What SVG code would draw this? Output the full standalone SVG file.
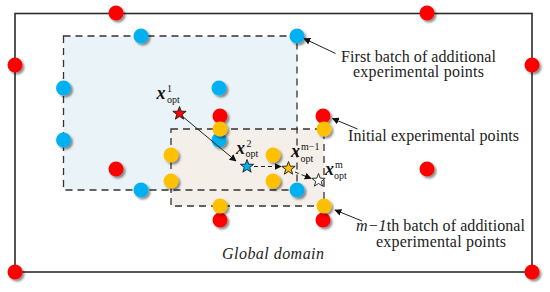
<svg xmlns="http://www.w3.org/2000/svg" width="550" height="292" viewBox="0 0 550 292">
<style>
.lbl{font-family:"Liberation Serif","Times New Roman",serif;font-size:16px;fill:#222}
.it{font-style:italic}
.xv{font-family:"Liberation Serif","Times New Roman",serif;font-size:18px;font-style:italic;font-weight:bold;fill:#111}
.sc{font-family:"Liberation Serif","Times New Roman",serif;font-size:10px;fill:#111}
.red{fill:#ff0000}
.blue{fill:#00b0f0}
.yel{fill:#ffc000}
.dash{fill:none;stroke:#333;stroke-width:1.3;stroke-dasharray:7 5}
.ptr{fill:none;stroke:#222;stroke-width:1}
.star{stroke:#1a1a1a;stroke-width:0.9;stroke-linejoin:miter}
</style>
<defs>
<filter id="sh" x="-60%" y="-60%" width="220%" height="220%">
<feDropShadow dx="2" dy="2" stdDeviation="1.3" flood-color="#000" flood-opacity="0.45"/>
</filter>
<marker id="ah" viewBox="0 0 10 10" refX="9" refY="5" markerWidth="7" markerHeight="7" markerUnits="userSpaceOnUse" orient="auto">
<path d="M0,0 L10,5 L0,10 z" fill="#111"/>
</marker>
<polygon id="star" points="0,-7 1.7,-2.35 6.66,-2.16 2.76,0.9 4.11,5.66 0,2.9 -4.11,5.66 -2.76,0.9 -6.66,-2.16 -1.7,-2.35"/>
</defs>

<g id="global-domain">
<rect x="15" y="13.5" width="517" height="258.5" fill="#fff" stroke="#2b2b2b" stroke-width="1.6"/>
<text class="lbl it" x="222" y="259" font-size="17" textLength="102">Global domain</text>
</g>

<g id="batch1-region">
<rect x="63.5" y="36" width="233.5" height="154" fill="#eaf3f7"/>
</g>
<g id="batchm1-region">
<rect x="171" y="129" width="153" height="77" fill="#f4efe8"/>
</g>
<g id="region-borders">
<rect class="dash" x="63.5" y="36" width="233.5" height="154"/>
<rect class="dash" x="171" y="129" width="153" height="77"/>
</g>

<g id="initial-points" filter="url(#sh)">
<circle class="red" cx="116" cy="13" r="7.5"/>
<circle class="red" cx="427" cy="13" r="7.5"/>
<circle class="red" cx="15" cy="65" r="7.5"/>
<circle class="red" cx="532" cy="65" r="7.5"/>
<circle class="red" cx="116" cy="169" r="7.5"/>
<circle class="red" cx="427" cy="169" r="7.5"/>
<circle class="red" cx="15" cy="272" r="7.5"/>
<circle class="red" cx="532" cy="272" r="7.5"/>
<circle class="red" cx="220" cy="116" r="7.5"/>
<circle class="red" cx="323" cy="116" r="7.5"/>
<circle class="red" cx="220" cy="220" r="7.5"/>
<circle class="red" cx="323" cy="220" r="7.5"/>
</g>

<g id="batch1-points" filter="url(#sh)">
<circle class="blue" cx="141" cy="36" r="7.5"/>
<circle class="blue" cx="297" cy="36" r="7.5"/>
<circle class="blue" cx="63.5" cy="88" r="7.5"/>
<circle class="blue" cx="219" cy="88" r="7.5"/>
<circle class="blue" cx="63.5" cy="140" r="7.5"/>
<circle class="blue" cx="219" cy="140" r="7.5"/>
<circle class="blue" cx="141" cy="190" r="7.5"/>
<circle class="blue" cx="297" cy="190" r="7.5"/>
</g>

<g id="batchm1-points" filter="url(#sh)">
<circle class="yel" cx="220" cy="129" r="7.5"/>
<circle class="yel" cx="324" cy="129" r="7.5"/>
<circle class="yel" cx="171" cy="155" r="7.5"/>
<circle class="yel" cx="273" cy="155" r="7.5"/>
<circle class="yel" cx="171" cy="181" r="7.5"/>
<circle class="yel" cx="273" cy="181" r="7.5"/>
<circle class="yel" cx="220" cy="206" r="7.5"/>
<circle class="yel" cx="324" cy="206" r="7.5"/>
</g>

<g id="connectors">
<line class="ptr" x1="182" y1="116" x2="236" y2="161" marker-end="url(#ah)"/>
<line class="ptr" x1="254" y1="166.5" x2="281" y2="166.5" stroke-dasharray="4 3" marker-end="url(#ah)"/>
<line class="ptr" x1="295" y1="172" x2="311" y2="178.5" stroke-dasharray="4 3" marker-end="url(#ah)"/>
<line class="ptr" x1="335.5" y1="53.5" x2="304" y2="38.5" marker-end="url(#ah)"/>
<line class="ptr" x1="357.5" y1="129" x2="332.5" y2="118.5" marker-end="url(#ah)"/>
<line class="ptr" x1="362" y1="221" x2="335" y2="210" marker-end="url(#ah)"/>
</g>

<g id="opt-1">
<use href="#star" x="179.5" y="113.5" class="star" fill="#ff0000"/>
<text class="xv" x="156.5" y="99">x</text>
<text class="sc" x="167" y="91.5">1</text>
<text class="sc" x="167" y="103">opt</text>
</g>
<g id="opt-2">
<use href="#star" x="247" y="166.5" class="star" fill="#00b0f0"/>
<text class="xv" x="236" y="154">x</text>
<text class="sc" x="246.5" y="146.5">2</text>
<text class="sc" x="245.5" y="157">opt</text>
</g>
<g id="opt-m1">
<use href="#star" x="288.5" y="168.5" class="star" fill="#ffc000"/>
<text class="xv" x="291" y="157">x</text>
<text class="sc" x="301" y="149.5">m−1</text>
<text class="sc" x="300.5" y="161.5">opt</text>
</g>
<g id="opt-m">
<use href="#star" x="318.5" y="180.5" class="star" fill="#ffffff"/>
<text class="xv" x="325" y="175">x</text>
<text class="sc" x="335" y="168">m</text>
<text class="sc" x="334" y="179">opt</text>
</g>

<g id="label-batch1">
<text class="lbl" x="341" y="61.5" textLength="155">First batch of additional</text>
<text class="lbl" x="353" y="77" textLength="131">experimental points</text>
</g>
<g id="label-initial">
<text class="lbl" x="348" y="141" textLength="171">Initial experimental points</text>
</g>
<g id="label-batchm1">
<text class="lbl" x="356" y="231" textLength="169"><tspan class="it">m−1</tspan>th batch of additional</text>
<text class="lbl" x="376" y="247" textLength="130">experimental points</text>
</g>
</svg>
